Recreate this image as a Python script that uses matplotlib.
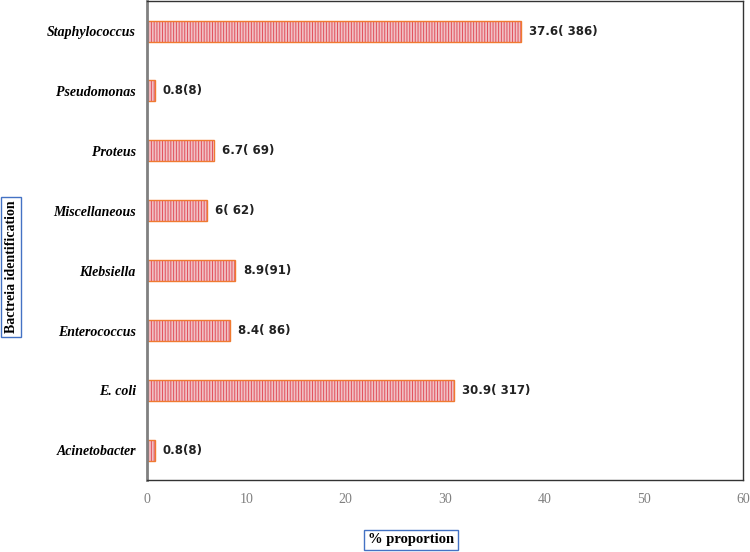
import matplotlib.pyplot as plt

categories = ['Acinetobacter', 'E. coli', 'Enterococcus', 'Klebsiella',
              'Miscellaneous', 'Proteus', 'Pseudomonas', 'Staphylococcus']
percent = [0.8, 30.9, 8.4, 8.9, 6, 6.7, 0.8, 37.6]
labels = ['0.8(8)', '30.9( 317)', '8.4( 86)', '8.9(91)',
          '6( 62)', '6.7( 69)', '0.8(8)', '37.6( 386)']

fig = plt.figure(figsize=(7.5, 5.52), dpi=100)
ax = fig.add_axes([0.196, 0.13, 0.795, 0.868])

pos = range(len(categories))
plt.rcParams['hatch.linewidth'] = 0.7
ax.barh(pos, percent, height=0.35, color='#f0c0c4', edgecolor='#e2505c',
        hatch='||||||', linewidth=0)
ax.barh(pos, percent, height=0.35, fill=False, edgecolor='#f07a30', linewidth=1.0)

for p, v, t in zip(pos, percent, labels):
    ax.text(v + 0.8, p, t, va='center', ha='left', fontsize=8.5,
            fontweight='bold', family='DejaVu Sans', color='#222222')

ax.set_xlim(0, 60)
ax.set_ylim(-0.5, 7.5)
ax.set_xticks(range(0, 61, 10))
ax.set_yticks(list(pos))
ax.set_yticklabels(categories, family='Liberation Serif', fontstyle='italic',
                   fontweight='bold', fontsize=10)
for lab in ax.get_xticklabels():
    lab.set_family('Liberation Serif')
    lab.set_color('#808080')
    lab.set_fontsize(10)
ax.tick_params(axis='both', length=0)
ax.tick_params(axis='x', pad=9)
ax.tick_params(axis='y', pad=8)

ax.spines['left'].set_color('#808080')
ax.spines['left'].set_linewidth(2)
for s in ['top', 'right', 'bottom']:
    ax.spines[s].set_color('#333333')
    ax.spines[s].set_linewidth(1)

box = dict(boxstyle='square,pad=0.25', facecolor='white', edgecolor='#4472c4', linewidth=1)
fig.text(0.015, 0.516, 'Bactreia identification', rotation=90, va='center', ha='center',
         family='Liberation Serif', fontweight='bold', fontsize=10, bbox=box)
fig.text(0.548, 0.022, '% proportion', va='center', ha='center',
         family='Liberation Serif', fontweight='bold', fontsize=10.5, bbox=box)

fig.savefig('out.png', dpi=100)
